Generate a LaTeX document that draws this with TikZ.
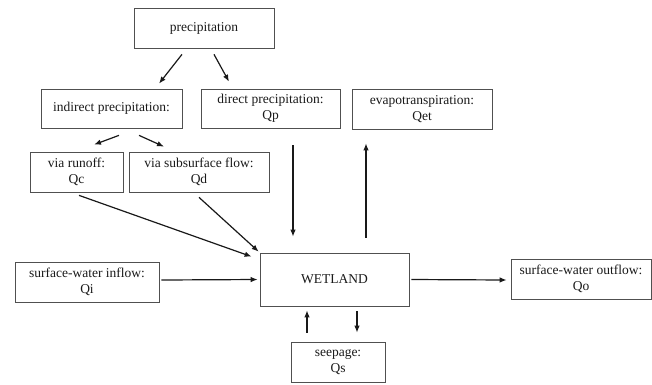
\documentclass[tikz,border=0pt]{standalone}
\usepackage{fontspec}
\setmainfont{Liberation Serif}
\usepackage{tikz}
\usetikzlibrary{
    arrows.meta,
    positioning
}
\definecolor{BoxGray}{RGB}{80,80,80}
\definecolor{InkGray}{RGB}{25,25,25}

\begin{document}
\begin{tikzpicture}[
    x=1pt,
    y=-1pt,
    >={Latex[length=7pt,width=5.5pt]},
    box/.style={
        draw=BoxGray,
        line width=0.7pt,
        align=center,
        inner sep=0pt,
        text=InkGray,
        font=\fontsize{13.5}{16}\selectfont
    },
    flow/.style={->, line width=1.2pt, InkGray}
]
\useasboundingbox (0,0) rectangle (652,384);

\node[
    box,
    minimum width=140pt,
    minimum height=40pt
] (precip) at (204,28) {precipitation};

\node[
    box,
    minimum width=141pt,
    minimum height=39pt
] (indirect) at (111.5,108.5) {indirect precipitation:};

\node[
    box,
    minimum width=139pt,
    minimum height=39pt
] (direct) at (270.5,108.5) {direct precipitation:\\Qp};

\node[
    box,
    minimum width=140pt,
    minimum height=40pt
] (evapo) at (422,109) {evapotranspiration:\\Qet};

\node[
    box,
    minimum width=93pt,
    minimum height=40pt
] (runoff) at (76.5,172) {via runoff:\\Qc};

\node[
    box,
    minimum width=140pt,
    minimum height=40pt
] (subsurf) at (199,172) {via subsurface flow:\\Qd};

\node[
    box,
    minimum width=144pt,
    minimum height=40pt
] (inflow) at (87,282) {surface-water inflow:\\Qi};

\node[
    box,
    minimum width=149pt,
    minimum height=53pt
] (wetland) at (334.5,279.5) {WETLAND};

\node[
    box,
    minimum width=94pt,
    minimum height=40pt
] (seepage) at (338,362) {seepage:\\Qs};

\node[
    box,
    minimum width=140pt,
    minimum height=40pt
] (outflow) at (581,279) {surface-water outflow:\\Qo};

\draw[flow] ([xshift=-22pt,yshift=-6pt]precip.south) -- ([xshift=47.5pt,yshift=5pt]indirect.north);
\draw[flow] ([xshift=10pt,yshift=-6pt]precip.south) -- ([xshift=-41.5pt,yshift=7pt]direct.north);
\draw[flow] ([xshift=7.5pt,yshift=-7pt]indirect.south) -- ([xshift=17.5pt,yshift=7pt]runoff.north);
\draw[flow] ([xshift=27.5pt,yshift=-7pt]indirect.south) -- ([xshift=-35pt,yshift=5pt]subsurf.north);
\draw[flow] ([xshift=22.5pt,yshift=-17pt]direct.south) -- ([xshift=-41.5pt,yshift=16pt]wetland.north);
\draw[flow] ([xshift=31.5pt,yshift=15pt]wetland.north) -- ([xshift=-56pt,yshift=-14pt]evapo.south);
\draw[flow] ([xshift=2.5pt,yshift=-3pt]runoff.south) -- ([xshift=-8pt,yshift=-4pt]wetland.north west);
\draw[flow] ([yshift=-5pt]subsurf.south) -- ([xshift=-1pt,yshift=1pt]wetland.north west);
\draw[flow] ([xshift=2pt,yshift=2pt]inflow.east) -- ([xshift=-2pt]wetland.west);
\draw[flow] ([xshift=2pt]wetland.east) -- ([xshift=-4pt,yshift=-1pt]outflow.west);
\draw[flow] ([xshift=-31pt,yshift=9pt]seepage.north) -- ([xshift=-27.5pt,yshift=-4pt]wetland.south);
\draw[flow] ([xshift=22.5pt,yshift=-5pt]wetland.south) -- ([xshift=19pt,yshift=9pt]seepage.north);

\end{tikzpicture}
\end{document}
